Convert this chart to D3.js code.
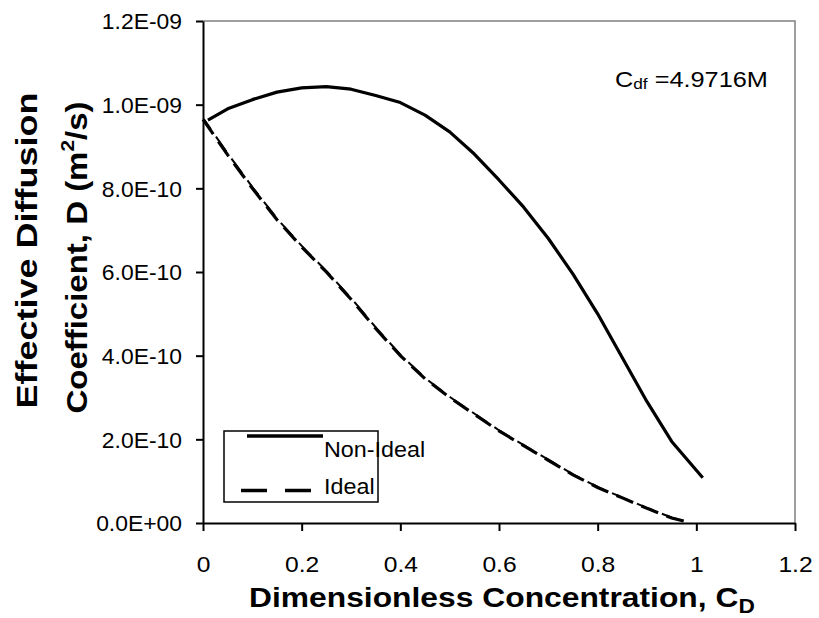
<!DOCTYPE html>
<html><head><meta charset="utf-8">
<script src="https://cdn.jsdelivr.net/npm/d3@7"></script>
<style>body{margin:0;background:#fff}svg{display:block}text{font-family:"Liberation Sans",Arial,sans-serif}</style>
</head><body><svg id="c" width="819" height="618"></svg>
<script>
const xTicks = [0, 0.2, 0.4, 0.6, 0.8, 1, 1.2];
const xTickLabels = ["0", "0.2", "0.4", "0.6", "0.8", "1", "1.2"];
const yTicks = [0, 2e-10, 4e-10, 6e-10, 8e-10, 1e-9, 1.2e-9];
const yTickLabels = ["0.0E+00", "2.0E-10", "4.0E-10", "6.0E-10", "8.0E-10", "1.0E-09", "1.2E-09"];
const seriesNames = ["Non-Ideal", "Ideal"];
const nonIdealX = [0.01, 0.05, 0.1, 0.15, 0.2, 0.25, 0.3, 0.35, 0.4, 0.45, 0.5, 0.55, 0.6, 0.65, 0.7, 0.75, 0.8, 0.85, 0.9, 0.95, 1.013];
const nonIdealY = [0.963, 0.99, 1.012, 1.03, 1.04, 1.043, 1.037, 1.022, 1.005, 0.975, 0.935, 0.882, 0.82, 0.755, 0.68, 0.595, 0.5, 0.395, 0.29, 0.195, 0.108].map(v => v * 1e-9);
const idealX = [0, 0.05, 0.1, 0.15, 0.2, 0.25, 0.3, 0.35, 0.4, 0.45, 0.5, 0.55, 0.6, 0.65, 0.7, 0.75, 0.8, 0.85, 0.9, 0.95, 0.98];
const idealY = [0.965, 0.88, 0.8, 0.725, 0.66, 0.6, 0.535, 0.465, 0.4, 0.345, 0.3, 0.26, 0.22, 0.185, 0.15, 0.115, 0.085, 0.06, 0.035, 0.012, 0.003].map(v => v * 1e-9);

const svg = d3.select("#c");
const L = 203, R = 795, T = 21, B = 523;
const x = d3.scaleLinear().domain([0, 1.2]).range([L, R]);
const y = d3.scaleLinear().domain([0, 1.2e-9]).range([B, T]);

function stretch(sel, k) {
  sel.each(function () {
    const w = this.getComputedTextLength();
    d3.select(this).attr("textLength", w * k).attr("lengthAdjust", "spacingAndGlyphs");
  });
}

// frame (top/right gray)
svg.append("path").attr("d", `M${L},${T}H${R}V${B}`).attr("fill", "none").attr("stroke", "#808080").attr("stroke-width", 1.5);

// axes
const xa = svg.append("g").attr("transform", `translate(0,${B})`)
  .call(d3.axisBottom(x).tickValues(xTicks).tickFormat((d, i) => xTickLabels[i]).tickSizeInner(8).tickSizeOuter(0));
const ya = svg.append("g").attr("transform", `translate(${L},0)`)
  .call(d3.axisLeft(y).tickValues(yTicks).tickFormat((d, i) => yTickLabels[i]).tickSizeInner(7).tickSizeOuter(0).tickPadding(14));
[xa, ya].forEach(a => {
  a.select(".domain").attr("stroke", "#000").attr("stroke-width", 2);
  a.selectAll(".tick line").attr("stroke", "#000").attr("stroke-width", 2);
  a.selectAll(".tick text").attr("font-size", 22).attr("fill", "#000").attr("font-family", "Liberation Sans, Arial, sans-serif");
});
xa.selectAll(".tick text").attr("dy", 0).attr("y", 49);
ya.selectAll(".tick text").attr("dy", "0.35em");
stretch(xa.selectAll(".tick text"), 1.12);
stretch(ya.selectAll(".tick text"), 1.04);

// lines
const line = d3.line().x(d => x(d[0])).y(d => y(d[1]));
const nonIdeal = nonIdealX.map((v, i) => [v, nonIdealY[i]]);
const ideal = idealX.map((v, i) => [v, idealY[i]]);
svg.append("path").datum(nonIdeal).attr("d", line).attr("fill", "none").attr("stroke", "#000").attr("stroke-width", 3.2).attr("stroke-linejoin", "round");
svg.append("path").datum(ideal).attr("d", line).attr("fill", "none").attr("stroke", "#000").attr("stroke-width", 3.2).attr("stroke-dasharray", "18,9");
svg.append("path").datum(ideal).attr("d", line).attr("fill", "none").attr("stroke", "#000").attr("stroke-width", 2).attr("stroke-dasharray", "18,9").attr("stroke-dashoffset", 6).attr("transform", "translate(1,0)");

// axis titles
const xt = svg.append("text").attr("transform", "translate(249,607) scale(1.136,1)").attr("font-size", 28).attr("font-weight", "bold").attr("fill", "#000");
xt.append("tspan").text("Dimensionless Concentration, C");
xt.append("tspan").attr("font-size", 20).attr("dy", 6).text("D");

svg.append("text").attr("transform", "translate(37,250.5) rotate(-90) scale(1.2,1)").attr("text-anchor", "middle").attr("font-size", 30).attr("font-weight", "bold").attr("fill", "#000").text("Effective Diffusion");
const yt2 = svg.append("text").attr("transform", "translate(87,257.5) rotate(-90) scale(1.1,1)").attr("text-anchor", "middle").attr("font-size", 30).attr("font-weight", "bold").attr("fill", "#000");
yt2.append("tspan").text("Coefficient, D (m");
yt2.append("tspan").attr("font-size", 19).attr("dy", -13).text("2");
yt2.append("tspan").attr("dy", 13).text("/s)");

// annotation
const ann = svg.append("text").attr("transform", "translate(615,87) scale(1.15,1)").attr("font-size", 22).attr("fill", "#000");
ann.append("tspan").text("C");
ann.append("tspan").attr("font-size", 15).attr("dy", 2).text("df");
ann.append("tspan").attr("dy", -2).text(" =4.9716M");

// legend
const lg = svg.append("g");
lg.append("rect").attr("x", 224).attr("y", 431).attr("width", 154).attr("height", 71).attr("fill", "#fff").attr("stroke", "#000").attr("stroke-width", 1.5);
lg.append("line").attr("x1", 247).attr("x2", 323).attr("y1", 436).attr("y2", 436).attr("stroke", "#000").attr("stroke-width", 3.5);
lg.append("line").attr("x1", 241).attr("x2", 311).attr("y1", 490.5).attr("y2", 490.5).attr("stroke", "#000").attr("stroke-width", 3.5).attr("stroke-dasharray", "26,18");
const lt = lg.selectAll("text.lt").data(seriesNames).join("text").attr("class", "lt")
  .attr("x", 324).attr("y", (d, i) => i === 0 ? 457 : 494).attr("font-size", 22).attr("fill", "#000").text(d => d);
stretch(lt, 1.06);
</script></body></html>
